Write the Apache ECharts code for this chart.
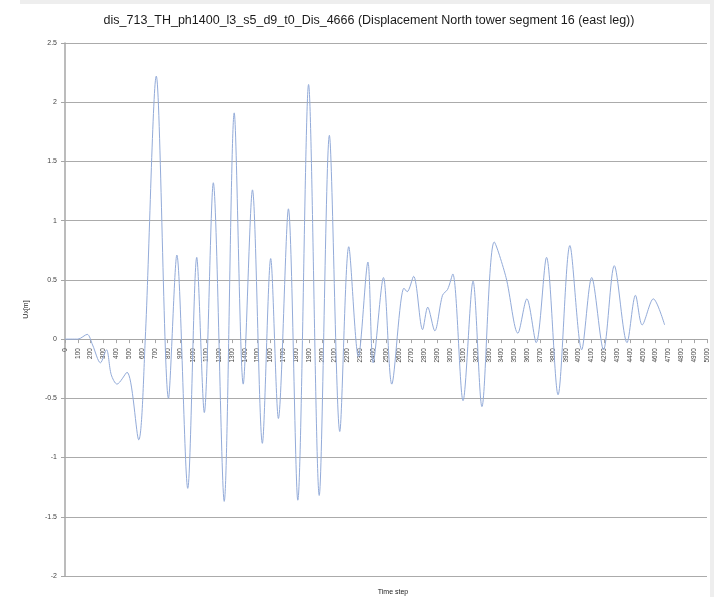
<!DOCTYPE html>
<html>
<head>
<meta charset="utf-8">
<script src="https://cdn.jsdelivr.net/npm/echarts@6/dist/echarts.min.js"></script>
<style>
  html, body { margin: 0; padding: 0; background: #ffffff; }
  #chart { width: 714px; height: 597px; }
</style>
</head>
<body>
<div id="chart"></div>
<script>
// ---- data ----
var chartTitle = 'dis_713_TH_ph1400_l3_s5_d9_t0_Dis_4666 (Displacement North tower segment 16 (east leg))';
var xAxisTitle = 'Time step';
var yAxisTitle = 'Ux[m]';

var timeSteps = [0, 100, 173, 215, 276, 323, 360, 405, 483, 574, 625, 711, 806, 871, 956, 1026, 1085, 1155, 1240, 1318,
  1388, 1460, 1537, 1602, 1662, 1740, 1813, 1897, 1980, 2059, 2140, 2210, 2285, 2359, 2400, 2480, 2545, 2640, 2665, 2715,
  2785, 2825, 2880, 2940, 2980, 3020, 3100, 3178, 3247, 3343, 3435, 3527, 3597, 3670, 3750, 3840, 3932, 4024, 4102, 4194,
  4278, 4377, 4443, 4495, 4582, 4670];
var displacement = [0, 0.0, 0.04, -0.05, -0.2, -0.09, -0.3, -0.38, -0.28, -0.85, 0.0, 2.22, -0.5, 0.71, -1.26, 0.69, -0.62, 1.32, -1.37, 1.91,
  -0.38, 1.26, -0.88, 0.68, -0.67, 1.10, -1.36, 2.15, -1.32, 1.72, -0.78, 0.78, -0.15, 0.65, -0.2, 0.52, -0.38, 0.43, 0.40, 0.53,
  0.08, 0.27, 0.07, 0.37, 0.42, 0.55, -0.52, 0.49, -0.57, 0.82, 0.52, 0.05, 0.34, -0.03, 0.69, -0.47, 0.79, -0.09, 0.52, -0.09,
  0.62, -0.03, 0.37, 0.12, 0.34, 0.12];

var xMin = 0, xMax = 5000, xStep = 100;
var yMin = -2, yMax = 2.5, yStep = 0.5;

var seriesData = timeSteps.map(function (t, i) { return [t, displacement[i]]; });

var gridTop = 43, gridBottom = 21, chartH = 597;
var plotH = chartH - gridTop - gridBottom;
// move the category axis (with its labels) up to the zero line, as in the reference
var zeroOffset = -((0 - yMin) / (yMax - yMin)) * plotH;

var chart = echarts.init(document.getElementById('chart'), null, { renderer: 'canvas' });
chart.setOption({
  animation: false,
  backgroundColor: '#ffffff',
  textStyle: { fontFamily: 'Liberation Sans' },
  graphic: [
    { type: 'rect', left: 20, top: 0, shape: { width: 694, height: 4 }, style: { fill: '#eeeeee' }, silent: true },
    { type: 'rect', right: 0, top: 0, shape: { width: 4, height: 597 }, style: { fill: '#eeeeee' }, silent: true }
  ],
  title: [{
    text: chartTitle,
    left: 364, top: 9, textAlign: 'center',
    textStyle: { fontSize: 12.5, fontWeight: 'normal', color: '#1a1a1a', fontFamily: 'Liberation Sans' }
  }, {
    text: xAxisTitle,
    left: 388, top: 584, textAlign: 'center',
    textStyle: { fontSize: 7, fontWeight: 'normal', color: '#222' }
  }],
  grid: { left: 65, right: 7, top: gridTop, bottom: gridBottom, containLabel: false },
  xAxis: {
    type: 'value', min: xMin, max: xMax, interval: xStep,
    position: 'bottom', offset: zeroOffset,
    axisLine: { onZero: false, lineStyle: { color: '#a6a6a6', width: 1 } },
    axisTick: { show: true, length: 4, lineStyle: { color: '#a6a6a6' } },
    splitLine: { show: false },
    axisLabel: {
      rotate: 90, fontSize: 6.5, color: '#444', margin: 9,
      showMinLabel: true, showMaxLabel: true,
      formatter: function (v) { return String(v); }
    }
  },
  yAxis: {
    type: 'value', min: yMin, max: yMax, interval: yStep,
    name: yAxisTitle, nameLocation: 'middle', nameGap: 35, nameRotate: 90,
    nameTextStyle: { fontSize: 7, color: '#222' },
    axisLine: { show: true, lineStyle: { color: '#a6a6a6', width: 1.5 } },
    axisTick: { show: true, length: 4, lineStyle: { color: '#a6a6a6' } },
    splitLine: { show: true, lineStyle: { color: '#ababab', width: 1.2 } },
    axisLabel: { fontSize: 7, color: '#444', margin: 8 }
  },
  series: [{
    type: 'line',
    data: seriesData,
    smooth: 0.3,
    showSymbol: false,
    lineStyle: { color: '#93abd9', width: 1 }
  }]
});
</script>
</body>
</html>
